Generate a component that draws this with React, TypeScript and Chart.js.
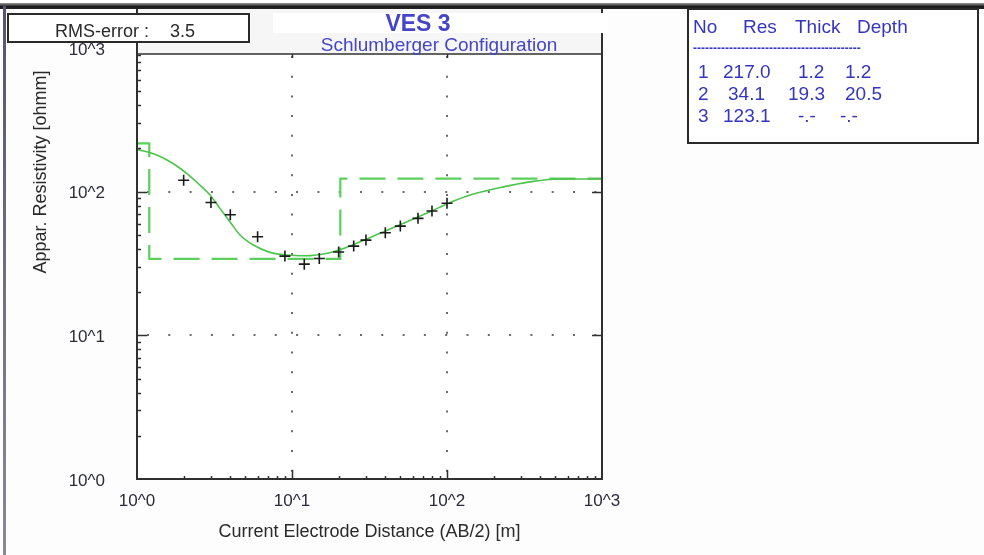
import React, { useEffect, useRef } from "react";
import { Chart, registerables } from "chart.js";

Chart.register(...registerables);

// ---- Data ----
const abHalf = [2, 3, 4, 6, 9, 12, 15, 20, 25, 30, 40, 50, 65, 80, 100];
const apparentRes = [120, 84, 69, 48.5, 35.6, 31.3, 34.3, 38, 41.8, 46, 51.8, 57.6, 65.2, 73.3, 83];

const curveAB = [1, 1.34, 1.71, 2.09, 2.48, 2.96, 3.43, 3.98, 4.62, 5.63, 7.21, 9.24, 12.4, 15.9, 19.4, 26.1, 37, 52.3, 77.6, 104, 141, 231, 343, 485, 687, 1000];
const curveRes = [197, 180, 157, 134, 114, 94.7, 76.5, 61.8, 49.9, 42.5, 37.8, 36.2, 35.8, 36.8, 38.8, 43.7, 51.3, 60.2, 72.5, 83.7, 94.7, 108, 117, 122, 122.4, 122.6];

const layerNo = [1, 2, 3];
const layerRes = [217.0, 34.1, 123.1];
const layerThick = [1.2, 19.3];
const layerDepth = [1.2, 20.5];

const axisMin = 1;
const axisMax = 1000;
const decadeTicks = [1, 10, 100, 1000];
const decadeLabels = ["10^0", "10^1", "10^2", "10^3"];
const rmsError = 3.5;

const titleMain = "VES 3";
const titleSub = "Schlumberger Configuration";
const xTitle = "Current Electrode Distance (AB/2) [m]";
const yTitle = "Appar. Resistivity [ohmm]";

const FONT = '"Liberation Sans", Arial, sans-serif';
const W = 984;
const H = 555;

function buildModelSteps() {
  const pts: { x: number; y: number }[] = [];
  let x0 = axisMin;
  for (let i = 0; i < layerRes.length; i++) {
    const x1 = i < layerDepth.length ? layerDepth[i] : axisMax;
    pts.push({ x: x0, y: layerRes[i] });
    pts.push({ x: x1, y: layerRes[i] });
    x0 = x1;
  }
  return pts;
}

const decor = {
  id: "decor",
  beforeDraw(chart: any) {
    const { ctx } = chart;
    const xs = chart.scales.x;
    const ys = chart.scales.y;
    const L = xs.getPixelForValue(axisMin);
    const R = xs.getPixelForValue(axisMax);
    const B = ys.getPixelForValue(axisMin);
    const frameTop = 9;
    const plotTop = 54;
    ctx.save();
    ctx.fillStyle = "#fdfdfd";
    ctx.fillRect(0, 0, W, H);
    // title strip
    ctx.fillStyle = "#f6f6f6";
    ctx.fillRect(L, frameTop, R - L, plotTop - frameTop);
    // plot area
    ctx.fillStyle = "#ffffff";
    ctx.fillRect(L, plotTop, R - L, B - plotTop);

    // dotted grid
    ctx.strokeStyle = "#6a6a6a";
    ctx.lineWidth = 2;
    for (const v of [10, 100]) {
      const px = Math.round(xs.getPixelForValue(v));
      ctx.setLineDash([2, 17.7]);
      ctx.beginPath();
      ctx.moveTo(px, plotTop + 2);
      ctx.lineTo(px, B - 4);
      ctx.stroke();
      const py = Math.round(ys.getPixelForValue(v));
      ctx.setLineDash([2, 19.3]);
      ctx.beginPath();
      ctx.moveTo(L + 10, py);
      ctx.lineTo(R - 4, py);
      ctx.stroke();
    }
    ctx.setLineDash([]);
    ctx.restore();
  },
  afterDatasetsDraw(chart: any) {
    const { ctx } = chart;
    const xs = chart.scales.x;
    const ys = chart.scales.y;
    const L = xs.getPixelForValue(axisMin);
    const R = xs.getPixelForValue(axisMax);
    const B = ys.getPixelForValue(axisMin);
    const frameTop = 9;
    const plotTop = 54;
    ctx.save();

    // outer window frame
    const g = ctx.createLinearGradient(0, 3, 0, 10);
    g.addColorStop(0, "#9a9a9a");
    g.addColorStop(0.5, "#1a1a1a");
    g.addColorStop(1, "#2a2a2a");
    ctx.fillStyle = g;
    ctx.fillRect(0, 3, W, 6);
    const gl = ctx.createLinearGradient(0, 0, 0, H);
    gl.addColorStop(0, "#55556a");
    gl.addColorStop(1, "#8a8a96");
    ctx.fillStyle = gl;
    ctx.fillRect(3, 6, 3, H - 6);

    // plot frame
    ctx.strokeStyle = "#303030";
    ctx.lineWidth = 2;
    ctx.beginPath();
    ctx.moveTo(L, frameTop);
    ctx.lineTo(L, B);
    ctx.lineTo(R, B);
    ctx.lineTo(R, frameTop);
    ctx.stroke();
    ctx.lineWidth = 1.5;
    ctx.beginPath();
    ctx.moveTo(L, plotTop);
    ctx.lineTo(R, plotTop);
    ctx.stroke();

    // ticks
    ctx.lineWidth = 1.5;
    ctx.strokeStyle = "#303030";
    for (let d = 1; d < axisMax; d *= 10) {
      for (let m = 2; m <= 9; m++) {
        const v = m * d;
        const py = Math.round(ys.getPixelForValue(v)) + 0.5;
        if (py > plotTop + 1) {
          ctx.beginPath();
          ctx.moveTo(L, py);
          ctx.lineTo(L + 4, py);
          ctx.stroke();
        }
        const px = Math.round(xs.getPixelForValue(v)) + 0.5;
        ctx.beginPath();
        ctx.moveTo(px, B);
        ctx.lineTo(px, B - 3);
        ctx.stroke();
      }
    }
    for (const v of [10, 100]) {
      const py = Math.round(ys.getPixelForValue(v)) + 0.5;
      ctx.beginPath();
      ctx.moveTo(L, py);
      ctx.lineTo(L + 10, py);
      ctx.moveTo(R, py);
      ctx.lineTo(R - 10, py);
      ctx.stroke();
      const px = Math.round(xs.getPixelForValue(v)) + 0.5;
      ctx.beginPath();
      ctx.moveTo(px, B);
      ctx.lineTo(px, B - 9);
      ctx.moveTo(px, plotTop);
      ctx.lineTo(px, plotTop + 4);
      ctx.stroke();
    }

    // tick labels
    ctx.fillStyle = "#2b2b3a";
    ctx.font = `17px ${FONT}`;
    ctx.textBaseline = "middle";
    ctx.textAlign = "right";
    decadeTicks.forEach((v, i) => {
      ctx.fillText(decadeLabels[i], 105, ys.getPixelForValue(v) + 2);
    });
    ctx.textAlign = "center";
    decadeTicks.forEach((v, i) => {
      ctx.fillText(decadeLabels[i], xs.getPixelForValue(v), 501);
    });

    // axis titles
    ctx.fillStyle = "#2a2a2a";
    ctx.font = `18px ${FONT}`;
    ctx.textBaseline = "alphabetic";
    ctx.textAlign = "center";
    ctx.fillText(xTitle, (L + R) / 2, 537);
    ctx.save();
    ctx.translate(46, 172);
    ctx.rotate(-Math.PI / 2);
    ctx.fillText(yTitle, 0, 0);
    ctx.restore();

    // title box
    ctx.fillStyle = "#ffffff";
    ctx.fillRect(273, 13, 335, 20);
    ctx.fillStyle = "#4545c8";
    ctx.font = `bold 23px ${FONT}`;
    ctx.textAlign = "center";
    ctx.fillText(titleMain, 418, 31);
    ctx.font = `19px ${FONT}`;
    ctx.fillText(titleSub, 439, 51);

    // RMS box
    ctx.fillStyle = "#ffffff";
    ctx.fillRect(8, 14, 241, 28);
    ctx.strokeStyle = "#2a2a2a";
    ctx.lineWidth = 2;
    ctx.strokeRect(8, 14, 241, 28);
    ctx.fillStyle = "#2a2a2a";
    ctx.font = `18px ${FONT}`;
    ctx.textAlign = "left";
    ctx.fillText("RMS-error :", 55, 37);
    ctx.fillText(rmsError.toFixed(1), 170, 37);

    // layer table
    ctx.fillStyle = "#ffffff";
    ctx.fillRect(688, 9, 290, 134);
    ctx.strokeStyle = "#2a2a2a";
    ctx.lineWidth = 2;
    ctx.strokeRect(688, 9, 290, 134);
    ctx.fillStyle = "#3535c0";
    ctx.font = `19px ${FONT}`;
    ctx.textAlign = "left";
    ctx.fillText("No", 693, 33);
    ctx.fillText("Res", 743, 33);
    ctx.fillText("Thick", 795, 33);
    ctx.fillText("Depth", 857, 33);
    ctx.font = `bold 12px ${FONT}`;
    ctx.fillText("-".repeat(42), 693, 52);
    ctx.font = `19px ${FONT}`;
    const rowY = [78, 100, 122];
    const resX = [723, 728, 723];
    const thickX = [798, 788, 798];
    const depthX = [845, 845, 840];
    layerNo.forEach((n, i) => {
      ctx.fillText(String(n), 698, rowY[i]);
      ctx.fillText(layerRes[i].toFixed(1), resX[i], rowY[i]);
      ctx.fillText(i < layerThick.length ? layerThick[i].toFixed(1) : "-.-", thickX[i], rowY[i]);
      ctx.fillText(i < layerDepth.length ? layerDepth[i].toFixed(1) : "-.-", depthX[i], rowY[i]);
    });

    ctx.restore();
  },
};

export default function App() {
  const ref = useRef<HTMLCanvasElement | null>(null);
  useEffect(() => {
    if (!ref.current) return;
    const measured = abHalf.map((x, i) => ({ x, y: apparentRes[i] }));
    const curve = curveAB.map((x, i) => ({ x, y: curveRes[i] }));
    const chart = new Chart(ref.current, {
      type: "scatter",
      data: {
        datasets: [
          {
            label: "measured",
            data: measured,
            showLine: false,
            pointStyle: "cross",
            pointRadius: 5.5,
            borderColor: "#1a1a1a",
            backgroundColor: "#1a1a1a",
            borderWidth: 1.6,
            order: 0,
          },
          {
            label: "fit",
            data: curve,
            showLine: true,
            borderColor: "#4cc44c",
            borderWidth: 1.6,
            pointRadius: 0,
            cubicInterpolationMode: "monotone",
            order: 1,
          },
          {
            label: "model",
            data: buildModelSteps(),
            showLine: true,
            borderColor: "#5ccf5c",
            borderWidth: 2.2,
            borderDash: [26, 12],
            pointRadius: 0,
            order: 2,
          },
        ],
      },
      options: {
        animation: false,
        responsive: false,
        devicePixelRatio: 1,
        events: [],
        layout: { padding: { left: 137, right: 382, top: 48, bottom: 76 } },
        scales: {
          x: { type: "logarithmic", min: axisMin, max: axisMax, display: false },
          y: { type: "logarithmic", min: axisMin, max: axisMax, display: false },
        },
        plugins: { legend: { display: false }, tooltip: { enabled: false }, title: { display: false } },
      },
      plugins: [decor],
    } as any);
    return () => chart.destroy();
  }, []);
  return (
    <div style={{ position: "fixed", left: 0, top: 0, width: W, height: H }}>
      <canvas ref={ref} width={W} height={H} style={{ width: W, height: H, display: "block" }} />
    </div>
  );
}
